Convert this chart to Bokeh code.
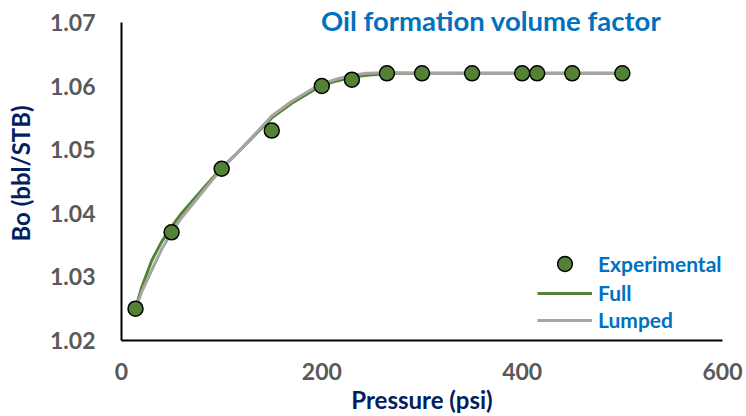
from bokeh.plotting import figure
from bokeh.models import Range1d, Label, Legend, LegendItem
from bokeh.embed import file_html
from bokeh.resources import INLINE

# Experimental data
exp_pressure = [14, 50, 100, 150, 200, 230, 265, 300, 350, 400, 415, 450, 500]
exp_bo = [1.025, 1.037, 1.047, 1.053, 1.060, 1.061, 1.062, 1.062, 1.062, 1.062, 1.062, 1.062, 1.062]

# Model curves
curve_pressure = [14, 20, 30, 40, 50, 60, 75, 90, 100, 115, 130, 150, 170, 190, 200,
                  215, 230, 245, 260, 275, 300, 350, 400, 450, 500]
full_bo = [1.0250, 1.0283, 1.0325, 1.0355, 1.0379, 1.0400, 1.0427, 1.0454, 1.0471, 1.0494,
           1.0518, 1.0550, 1.0573, 1.0592, 1.0601, 1.0608, 1.0614, 1.0617, 1.0619, 1.0620,
           1.0620, 1.0620, 1.0620, 1.0620, 1.0620]
lumped_bo = [1.0250, 1.0276, 1.0310, 1.0343, 1.0370, 1.0393, 1.0422, 1.0451, 1.0470, 1.0494,
             1.0519, 1.0553, 1.0576, 1.0595, 1.0603, 1.0611, 1.0617, 1.0620, 1.0621, 1.0621,
             1.0620, 1.0620, 1.0620, 1.0620, 1.0620]

x_ticks = [0, 200, 400, 600]
y_ticks = [1.02, 1.03, 1.04, 1.05, 1.06, 1.07]

FONT = "Lato"
GREEN = "#548235"
GRAY = "#A5A5A5"

p = figure(width=746, height=416, output_backend="svg", toolbar_location=None,
           x_range=Range1d(0, 600), y_range=Range1d(1.02, 1.0725),
           min_border_left=121, min_border_right=24, min_border_top=6, min_border_bottom=74)
p.outline_line_color = None
p.xgrid.visible = False
p.ygrid.visible = False

for ax in (p.xaxis[0], p.yaxis[0]):
    ax.axis_line_color = "black"
    ax.axis_line_width = 2
    ax.major_tick_line_color = None
    ax.minor_tick_line_color = None
    ax.major_tick_out = 0
    ax.major_tick_in = 0
    ax.minor_tick_out = 0
    ax.minor_tick_in = 0
    ax.major_label_text_font = FONT
    ax.major_label_text_font_style = "bold"
    ax.major_label_text_font_size = "23px"
    ax.major_label_text_color = "#595959"
    ax.axis_label_text_font = FONT
    ax.axis_label_text_font_style = "bold"
    ax.axis_label_text_font_size = "24px"
    ax.axis_label_text_color = "#002060"

p.yaxis.bounds = (1.02, 1.07)
p.xaxis.ticker = x_ticks
p.yaxis.ticker = y_ticks
p.yaxis.major_label_overrides = {v: f"{v:.2f}" for v in y_ticks}
p.xaxis.major_label_standoff = 22
p.yaxis.major_label_standoff = 26
p.xaxis.axis_label = "Pressure (psi)"
p.yaxis.axis_label = "Bo (bbl/STB)"
p.xaxis.axis_label_standoff = 2
p.yaxis.axis_label_standoff = 12

r_full = p.line(curve_pressure, full_bo, line_color=GREEN, line_width=3)
r_lump = p.line(curve_pressure, lumped_bo, line_color=GRAY, line_width=3)
r_exp = p.scatter(exp_pressure, exp_bo, size=15, fill_color=GREEN, line_color="black", line_width=1.5)


def style_legend(lg, gh, sp):
    lg.background_fill_alpha = 0
    lg.border_line_color = None
    lg.padding = 0
    lg.margin = 0
    lg.spacing = sp
    lg.glyph_width = 55
    lg.glyph_height = gh
    lg.label_height = 22
    lg.label_standoff = 6
    lg.label_text_font = FONT
    lg.label_text_font_style = "bold"
    lg.label_text_font_size = "21px"
    lg.label_text_color = "#0070C0"


legend_exp = Legend(items=[LegendItem(label="Experimental", renderers=[r_exp])],
                    location=(416, 58), orientation="vertical")
style_legend(legend_exp, 37, 0)
p.add_layout(legend_exp, "center")

legend_lines = Legend(items=[LegendItem(label="Full", renderers=[r_full]),
                             LegendItem(label="Lumped", renderers=[r_lump])],
                      location=(416, 8), orientation="vertical")
style_legend(legend_lines, 22, 2)
p.add_layout(legend_lines, "center")

title = Label(x=369, y=1.0703, text="Oil formation volume factor", text_align="center",
              text_baseline="middle", text_font=FONT, text_font_style="bold",
              text_font_size="27.5px", text_color="#0070C0")
p.add_layout(title)

open("out.html", "w").write(file_html(p, INLINE))
